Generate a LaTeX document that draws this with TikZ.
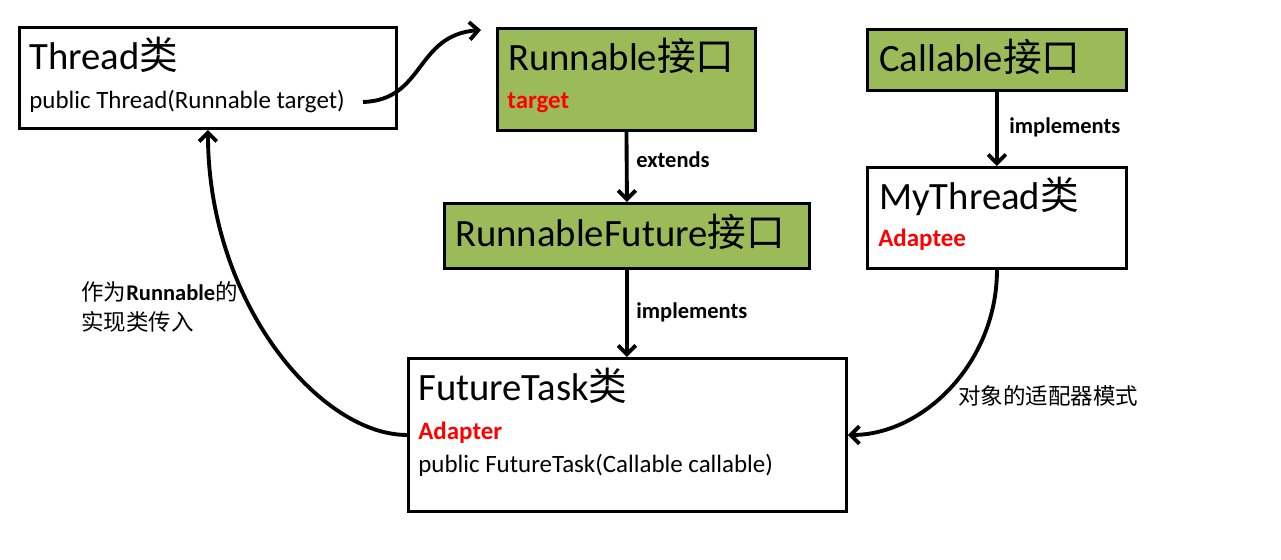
\documentclass[tikz,border=0pt]{standalone}
\usepackage{fontspec}
\setmainfont{Carlito}
\newfontfamily\cjk{Noto Sans CJK SC}
\usetikzlibrary{arrows.meta}
\definecolor{ifacegreen}{RGB}{155,187,89}

\newcommand{\titlefont}{\fontsize{22}{26}\selectfont}
\newcommand{\bodyfont}{\fontsize{14.2}{17}\selectfont}
\newcommand{\notefont}{\fontsize{12.8}{15}\selectfont}

\begin{document}
\begin{tikzpicture}[x=0.02cm, y=-0.02cm, >={Straight Barb[length=5pt,width=10pt]},
    box/.style={draw, line width=1.7pt, inner sep=0pt, anchor=north west},
    iface/.style={box, fill=ifacegreen},
    txt/.style={anchor=base west, inner sep=0pt},
    arr/.style={->, line width=2.2pt}]
    \useasboundingbox (0,0) rectangle (1281,560);

    % === Boxes ===
    \node[box, minimum width=7.54cm, minimum height=2.02cm] (thread) at (18,26) {};
    \node[iface, minimum width=5.16cm, minimum height=2.04cm] (runnable) at (496,27) {};
    \node[iface, minimum width=5.18cm, minimum height=1.22cm] (callable) at (866,28) {};
    \node[box, minimum width=5.18cm, minimum height=2.02cm] (mythread) at (866,166) {};
    \node[iface, minimum width=7.30cm, minimum height=1.30cm] (rfuture) at (443,202) {};
    \node[box, minimum width=8.76cm, minimum height=3.06cm] (ftask) at (407,357) {};

    % Box texts
    \node[txt] (thread-title) at (29,70) {\titlefont Thread{\cjk 类}};
    \node[txt] (thread-ctor) at (29,109) {\bodyfont public Thread(Runnable target)};
    \node[txt] (runnable-title) at (508,71) {\titlefont Runnable{\cjk 接口}};
    \node[txt, red] (runnable-target) at (507,109) {\bodyfont\bfseries target};
    \node[txt] (callable-title) at (879,72) {\titlefont Callable{\cjk 接口}};
    \node[txt] (mythread-title) at (879,210) {\titlefont MyThread{\cjk 类}};
    \node[txt, red] (mythread-adaptee) at (878,247) {\bodyfont\bfseries Adaptee};
    \node[txt] (rfuture-title) at (455,247) {\titlefont RunnableFuture{\cjk 接口}};
    \node[txt] (ftask-title) at (418,400) {\titlefont FutureTask{\cjk 类}};
    \node[txt, red] (ftask-adapter) at (418,439) {\bodyfont\bfseries Adapter};
    \node[txt] (ftask-ctor) at (418,472) {\bodyfont public FutureTask(Callable callable)};

    % === Connectors ===
    \coordinate (ctor-end) at (363,102);
    \coordinate (target-in) at (481,30);

    \draw[arr] (runnable.south) -- (rfuture.north);
    \draw[arr] (rfuture.south) -- (rfuture.south |- ftask.north);
    \draw[arr] (callable.south) -- (mythread.north);

    % Thread(Runnable target) -> Runnable
    \draw[arr] (ctor-end) .. controls +(62,-2) and +(-66,5) .. (target-in);
    % FutureTask passed in as Runnable
    \draw[arr] (ftask.west) .. controls +(-87,0) and +(0,173) .. (thread.south);
    % MyThread adapted by FutureTask
    \draw[arr] (mythread.south) .. controls +(0,93) and +(75,0) .. (ftask.east);

    % Labels
    \node[txt] (lbl-extends) at (636,168) {\notefont\bfseries extends};
    \node[txt] (lbl-impl-mid) at (636,319) {\notefont\bfseries implements};
    \node[txt] (lbl-impl-right) at (1009,134) {\notefont\bfseries implements};
    \node[txt] (lbl-pass1) at (81,301) {\notefont{\cjk 作为}\textbf{Runnable}{\cjk 的}};
    \node[txt] (lbl-pass2) at (81,331) {\notefont\cjk 实现类传入};
    \node[txt] (lbl-adapter) at (958,404) {\notefont\cjk 对象的适配器模式};
\end{tikzpicture}
\end{document}
